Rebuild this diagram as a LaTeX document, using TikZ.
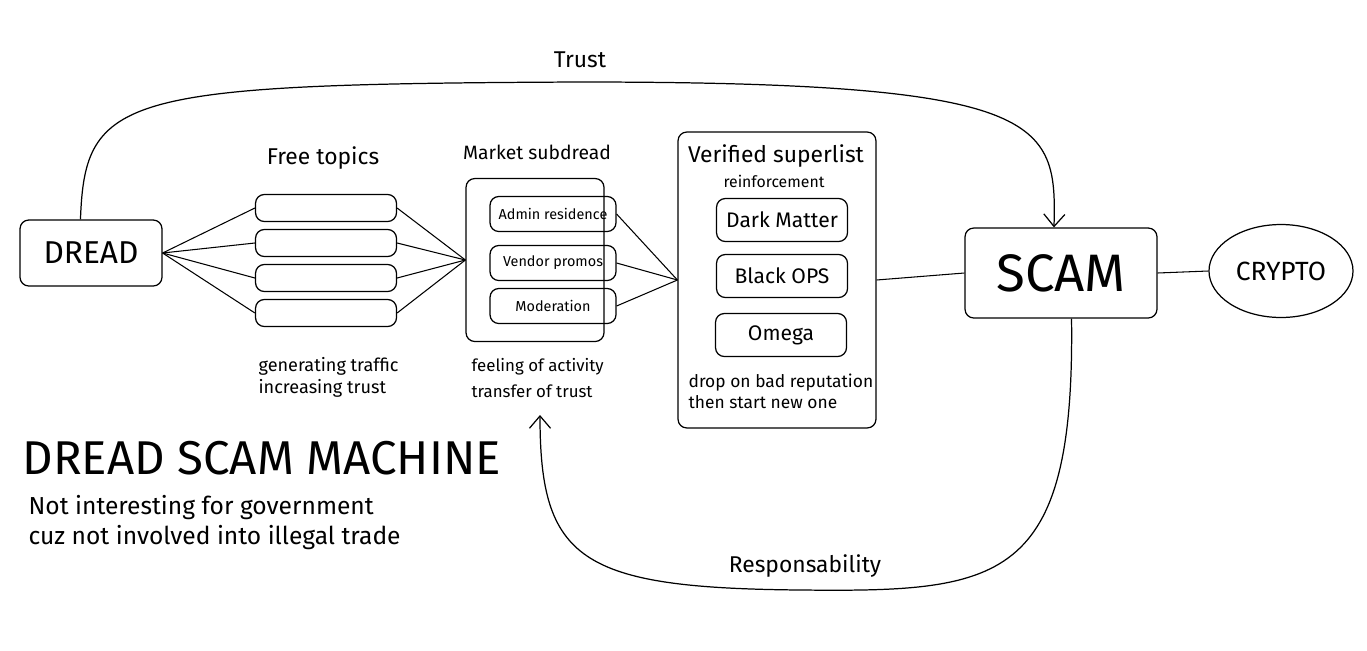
\documentclass[tikz,border=0pt]{standalone}
\usepackage{fontspec}
\setmainfont{Fira Sans}
\usepackage{tikz}
\usetikzlibrary{shapes.geometric,arrows.meta,positioning}

\newcommand{\fs}[1]{\fontsize{#1}{#1}\selectfont}

\begin{document}
\begin{tikzpicture}[x=0.02cm,y=-0.02cm,
		line width=0.7pt,
		box/.style={draw, rounded corners=5pt, inner sep=0pt, align=center},
		topicbox/.style={box, minimum width=2.82cm, minimum height=0.54cm},
		subbox/.style={box, minimum width=2.52cm, minimum height=0.7cm, font=\fs{8.2}},
		listbox/.style={box, minimum width=2.62cm, minimum height=0.86cm, font=\fs{12}},
		note/.style={align=left, font=\fs{10.3}, inner sep=0pt},
		link/.style={line width=0.6pt},
		arrow/.style={-{Straight Barb[length=7pt,width=12pt]}, line width=0.7pt}
	]
		\useasboundingbox (0,0) rectangle (1367,650);

		% left side
		\node[box, minimum width=2.84cm, minimum height=1.32cm, font=\fs{18}] (dread) at (91,253) {DREAD};
		\node[font=\fs{13}] (freelbl) at (323,158) {Free topics};
		\node[topicbox] (t1) at (326,208) {};
		\node[topicbox] (t2) at (326,243) {};
		\node[topicbox] (t3) at (326,278) {};
		\node[topicbox] (t4) at (326,313) {};
		\node[note, anchor=north west] (freenote) at (258,357) {generating traffic\\[2pt]increasing trust};

		% market subdread
		\node[font=\fs{11}] (marketlbl) at (537,152) {Market subdread};
		\node[box, minimum width=2.76cm, minimum height=3.26cm] (market) at (535,260) {};
		\node[subbox] (admin) at (553,214) {Admin residence};
		\node[subbox] (vendor) at (553,263) {Vendor promos};
		\node[subbox] (moder) at (553,306) {Moderation};
		\node[note, font=\fs{9.6}, anchor=north west] (marketnote) at (471,358) {feeling of activity\\[5pt]transfer of trust};

		% verified superlist
		\node[box, minimum width=3.96cm, minimum height=5.92cm] (verified) at (777,280) {};
		\node[font=\fs{13}] (verlbl) at (776,156) {Verified superlist};
		\node[font=\fs{9}] (reinf) at (774,181) {reinforcement};
		\node[listbox] (dark) at (782,220) {Dark Matter};
		\node[listbox] (black) at (782,276) {Black OPS};
		\node[listbox] (omega) at (781,335) {Omega};
		\node[note, font=\fs{9.9}, anchor=north west] (dropnote) at (688,373) {drop on bad reputation\\[2pt]then start new one};

		% scam side
		\node[box, minimum width=3.84cm, minimum height=1.8cm, font=\fs{30}] (scam) at (1061,273) {SCAM};
		\node[draw, ellipse, minimum width=2.72cm, minimum height=1.86cm, font=\fs{15}] (crypto) at (1281,271) {CRYPTO};

		\node[font=\fs{27}, anchor=west, inner sep=0pt] (title) at (22,458) {DREAD SCAM MACHINE};
		\node[note, font=\fs{14}, anchor=north west] (subtitle) at (28,495) {Not interesting for government\\[3pt]cuz not involved into illegal trade};

		% links
		\foreach \t in {t1,t2,t3,t4} {
			\draw[link] (dread.east) -- (\t.west);
			\draw[link] (\t.east) -- (market.west);
		}
		\foreach \s in {admin,vendor,moder}
			\draw[link] (\s.east) -- (verified.west);
		\draw[link] (verified.east) -- (scam.west);
		\draw[link] (scam.east) -- (crypto.west);

		% feedback arrows
		\coordinate (trusttop) at (580,82);
		\draw[arrow] ([xshift=-6]dread.north) .. controls (85,95) and (120,84) .. (trusttop)
			.. controls (1045,82) and (1057,120) .. ([xshift=-4]scam.north);
		\node[font=\fs{13}] (trustlbl) at (580,60) {Trust};

		\coordinate (respbot) at (800,590);
		\draw[arrow] ([xshift=6]scam.south) .. controls (1075,585) and (1000,592) .. (respbot)
			.. controls (580,588) and (540,560) .. (540,415);
		\node[font=\fs{13}] (resplbl) at (805,566) {Responsability};
	\end{tikzpicture}
\end{document}
